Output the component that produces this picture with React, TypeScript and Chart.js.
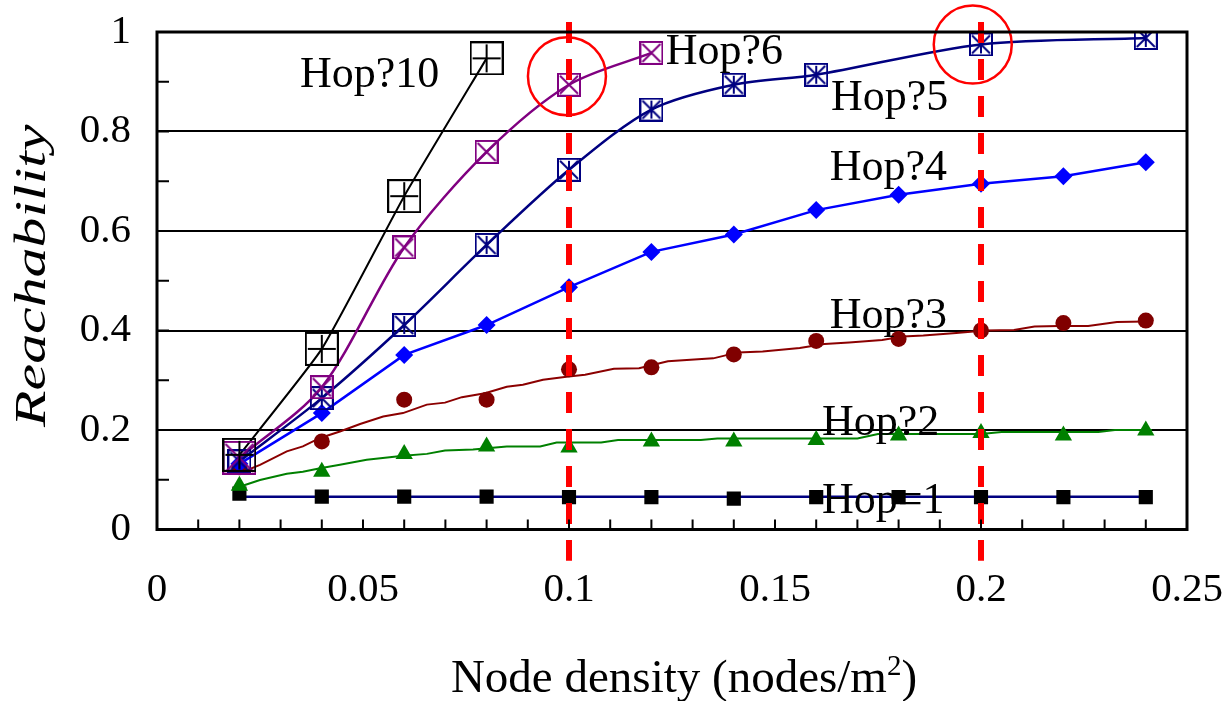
import React, { useEffect, useRef } from "react";
import { Chart, registerables } from "chart.js";
Chart.register(...registerables);

// ---- data ----
const densities = [0.02, 0.04, 0.06, 0.08, 0.1, 0.12, 0.14, 0.16, 0.18, 0.2, 0.22, 0.24];
const hop1 = [0.072, 0.066, 0.066, 0.066, 0.065, 0.065, 0.062, 0.065, 0.065, 0.065, 0.065, 0.065];
const hop1LineX = [0.02, 0.24];
const hop1LineY = [0.066, 0.066];
const hop2 = [0.088, 0.116, 0.152, 0.167, 0.165, 0.177, 0.177, 0.18, 0.189, 0.194, 0.189, 0.199];
const hop3 = [0.125, 0.177, 0.261, 0.261, 0.322, 0.326, 0.352, 0.379, 0.383, 0.4, 0.415, 0.42];
const hop4 = [0.132, 0.234, 0.351, 0.411, 0.487, 0.558, 0.593, 0.642, 0.673, 0.695, 0.71, 0.738];
const hop5X = [0.02, 0.04, 0.06, 0.08, 0.1, 0.12, 0.14, 0.16, 0.2, 0.24];
const hop5 = [0.137, 0.264, 0.411, 0.572, 0.723, 0.844, 0.894, 0.914, 0.975, 0.988];
const hop6X = [0.02, 0.04, 0.06, 0.08, 0.1, 0.12];
const hop6 = [0.144, 0.286, 0.567, 0.759, 0.894, 0.958];
const hop10X = [0.02, 0.04, 0.06, 0.08];
const hop10 = [0.15, 0.363, 0.67, 0.947];

const hop3FitX = [0.02, 0.025, 0.0315, 0.0354, 0.0396, 0.0444, 0.0493, 0.0549, 0.0597, 0.0655, 0.0699, 0.074, 0.0796, 0.0849, 0.0888, 0.0937, 0.0994, 0.1039, 0.1109, 0.117, 0.124, 0.135, 0.141, 0.147, 0.156, 0.162, 0.168, 0.176, 0.181, 0.186, 0.194, 0.201, 0.208, 0.213, 0.219, 0.226, 0.233, 0.24];
const hop3FitY = [0.113, 0.13, 0.157, 0.167, 0.184, 0.197, 0.212, 0.227, 0.234, 0.251, 0.255, 0.266, 0.274, 0.287, 0.291, 0.301, 0.307, 0.311, 0.323, 0.324, 0.338, 0.344, 0.356, 0.358, 0.365, 0.373, 0.376, 0.381, 0.388, 0.39, 0.395, 0.4, 0.401, 0.408, 0.409, 0.409, 0.417, 0.418];
const hop2FitX = [0.0206, 0.025, 0.0315, 0.0354, 0.0396, 0.0444, 0.0509, 0.0598, 0.0655, 0.0699, 0.0767, 0.0849, 0.093, 0.097, 0.1078, 0.1119, 0.132, 0.136, 0.17, 0.175, 0.2, 0.205, 0.2285, 0.2325, 0.2415];
const hop2FitY = [0.0875, 0.0996, 0.112, 0.116, 0.123, 0.13, 0.14, 0.148, 0.152, 0.159, 0.161, 0.167, 0.167, 0.175, 0.175, 0.18, 0.18, 0.183, 0.183, 0.192, 0.192, 0.196, 0.196, 0.2, 0.2];

const dashX = [0.1, 0.2];
const dashYRange = [1.02, -0.063];
const circleX = [0.0995, 0.198];
const circleY = [0.911, 0.975];

const labelText = ["Hop?10", "Hop?6", "Hop?5", "Hop?4", "Hop?3", "Hop?2", "Hop=1"];
const labelX = [0.0347, 0.1235, 0.1636, 0.1633, 0.1633, 0.1614, 0.1614];
const labelY = [0.89, 0.935, 0.844, 0.703, 0.405, 0.19, 0.034];

const xTitleMain = "Node density (nodes/m";
const xTitleSup = "2";
const xTitleEnd = ")";
const yTitle = "Reachability";

const FONT = '"Liberation Serif", "Times New Roman", serif';

const pts = (xs: number[], ys: number[]) => xs.map((x, i) => ({ x, y: ys[i] }));

function makeMarker(kind: string, color: string, size: number): HTMLCanvasElement {
  const c = document.createElement("canvas");
  c.width = size;
  c.height = size;
  const g = c.getContext("2d")!;
  const lw = 2;
  g.strokeStyle = color;
  g.lineWidth = lw;
  g.strokeRect(lw / 2, lw / 2, size - lw, size - lw);
  const m = size / 2;
  const i = lw + 1;
  g.beginPath();
  if (kind === "plus" || kind === "star") {
    g.moveTo(m, i);
    g.lineTo(m, size - i);
  }
  if (kind === "plus") {
    g.moveTo(i, m);
    g.lineTo(size - i, m);
  }
  if (kind === "x" || kind === "star") {
    g.moveTo(i, i);
    g.lineTo(size - i, size - i);
    g.moveTo(size - i, i);
    g.lineTo(i, size - i);
  }
  g.stroke();
  return c;
}

const zeroPad = (s: any) => {
  s.paddingLeft = 0;
  s.paddingRight = 0;
  s.paddingTop = 0;
  s.paddingBottom = 0;
};

export default function App() {
  const ref = useRef<HTMLCanvasElement>(null);
  useEffect(() => {
    document.body.style.margin = "0";
    const boxPlus = makeMarker("plus", "#000000", 34);
    const boxX = makeMarker("x", "#800080", 24);
    const boxXBig = makeMarker("x", "#800080", 34);
    const boxStar = makeMarker("star", "#000080", 24);

    const decor = {
      id: "decor",
      afterDatasetsDraw(chart: any) {
        const { ctx, scales } = chart;
        const xs = scales.x;
        const ys = scales.y;
        ctx.save();
        ctx.fillStyle = "#000";
        ctx.font = `44px ${FONT}`;
        ctx.textAlign = "left";
        ctx.textBaseline = "alphabetic";
        labelText.forEach((t, i) => {
          ctx.fillText(t, xs.getPixelForValue(labelX[i]), ys.getPixelForValue(labelY[i]));
        });
        ctx.restore();
      },
      afterDraw(chart: any) {
        const { ctx, chartArea: a, scales } = chart;
        const xs = scales.x;
        const ys = scales.y;
        ctx.save();
        ctx.strokeStyle = "#000";
        ctx.lineWidth = 2;
        ctx.beginPath();
        for (let k = 1; k < 10; k++) {
          const py = ys.getPixelForValue(k / 10);
          ctx.moveTo(a.left, py);
          ctx.lineTo(a.left + 12, py);
        }
        for (let k = 1; k < 25; k++) {
          const px = xs.getPixelForValue(k / 100);
          ctx.moveTo(px, a.bottom);
          ctx.lineTo(px, a.bottom - 10);
        }
        ctx.stroke();
        ctx.lineWidth = 3;
        ctx.strokeRect(a.left, a.top, a.right - a.left, a.bottom - a.top);

        // x title
        ctx.fillStyle = "#000";
        ctx.textBaseline = "alphabetic";
        ctx.textAlign = "left";
        ctx.font = `47px ${FONT}`;
        const w1 = ctx.measureText(xTitleMain).width;
        const w3 = ctx.measureText(xTitleEnd).width;
        ctx.font = `29px ${FONT}`;
        const w2 = ctx.measureText(xTitleSup).width;
        const total = w1 + w2 + w3;
        const cx = (a.left + a.right) / 2 + 12;
        const base = 692;
        let sx = cx - total / 2;
        ctx.font = `47px ${FONT}`;
        ctx.fillText(xTitleMain, sx, base);
        sx += w1;
        ctx.font = `29px ${FONT}`;
        ctx.fillText(xTitleSup, sx, base - 17);
        sx += w2;
        ctx.font = `47px ${FONT}`;
        ctx.fillText(xTitleEnd, sx, base);

        // y title
        ctx.translate(33, (a.top + a.bottom) / 2 - 5);
        ctx.rotate(-Math.PI / 2);
        ctx.scale(1.36, 1);
        ctx.font = `italic 44px ${FONT}`;
        ctx.textAlign = "center";
        ctx.textBaseline = "middle";
        ctx.fillText(yTitle, 0, 0);
        ctx.restore();
      },
    };

    const lineDs = (data: any, color: string, width: number, tension = 0) => ({
      data,
      showLine: true,
      borderColor: color,
      borderWidth: width,
      pointRadius: 0,
      pointHoverRadius: 0,
      tension,
      fill: false,
    });

    const chart = new Chart(ref.current!, {
      type: "scatter",
      data: {
        datasets: [
          { ...lineDs(pts([dashX[0], dashX[0]], dashYRange), "#FF0000", 6), borderDash: [21, 16], clip: false } as any,
          { ...lineDs(pts([dashX[1], dashX[1]], dashYRange), "#FF0000", 6), borderDash: [21, 16], clip: false } as any,
          {
            data: pts(circleX, circleY),
            pointStyle: "circle",
            pointRadius: 39,
            pointHoverRadius: 39,
            pointBorderWidth: 2.5,
            pointBorderColor: "#FF0000",
            pointBackgroundColor: "rgba(0,0,0,0)",
            clip: false,
          } as any,
          { data: pts(hop10X, hop10), pointStyle: boxPlus, pointRadius: 17 } as any,
          { data: pts(hop6X, hop6), pointStyle: hop6X.map((_, i) => (i === 0 ? boxXBig : boxX)), pointRadius: 12 } as any,
          { data: pts(hop5X, hop5), pointStyle: boxStar, pointRadius: 12 } as any,
          { data: pts(densities, hop4), pointStyle: "rectRot", pointRadius: 9, pointBackgroundColor: "#0000FF", pointBorderColor: "#0000FF", pointBorderWidth: 0 } as any,
          { data: pts(densities, hop3), pointStyle: "circle", pointRadius: 8, pointBackgroundColor: "#800000", pointBorderColor: "#800000", pointBorderWidth: 0 } as any,
          { data: pts(densities, hop2), pointStyle: "triangle", pointRadius: 10, pointBackgroundColor: "#008000", pointBorderColor: "#008000", pointBorderWidth: 0 } as any,
          { data: pts(densities, hop1), pointStyle: "rect", pointRadius: 10, pointBackgroundColor: "#000000", pointBorderColor: "#000000", pointBorderWidth: 0 } as any,
          lineDs(pts(hop10X, hop10), "#000000", 2, 0.15),
          lineDs(pts(hop6X, hop6), "#800080", 2.5, 0.3),
          lineDs(pts(hop5X, hop5), "#000080", 2.5, 0.3),
          lineDs(pts(densities, hop4), "#0000FF", 2.5, 0),
          lineDs(pts(hop3FitX, hop3FitY), "#8B0000", 2, 0),
          lineDs(pts(hop2FitX, hop2FitY), "#008000", 2, 0),
          lineDs(pts(hop1LineX, hop1LineY), "#000080", 2.5, 0),
        ],
      },
      options: {
        responsive: false,
        animation: false,
        devicePixelRatio: 1,
        events: [],
        layout: { autoPadding: false, padding: { top: 32, right: 40, left: 0, bottom: 0 } },
        plugins: { legend: { display: false }, tooltip: { enabled: false } },
        scales: {
          x: {
            type: "linear",
            min: 0,
            max: 0.25,
            afterFit: (s: any) => {
              s.height = 171.5;
              zeroPad(s);
            },
            border: { display: false },
            grid: { display: false, drawTicks: false },
            ticks: {
              stepSize: 0.01,
              autoSkip: false,
              maxRotation: 0,
              padding: 36,
              color: "#000",
              font: { family: FONT, size: 41 },
              callback: (v: any) => (Math.round(Number(v) * 100) % 5 === 0 ? String(parseFloat(Number(v).toFixed(2))) : ""),
            },
          },
          y: {
            type: "linear",
            min: 0,
            max: 1,
            afterFit: (s: any) => {
              s.width = 157;
              zeroPad(s);
            },
            border: { display: false },
            grid: {
              drawTicks: false,
              lineWidth: 2,
              color: (c: any) => {
                const k = Math.round(c.tick.value * 10);
                return k % 2 === 0 && k > 0 && k < 10 ? "#000" : "rgba(0,0,0,0)";
              },
            },
            ticks: {
              stepSize: 0.1,
              autoSkip: false,
              padding: 26,
              color: "#000",
              font: { family: FONT, size: 41 },
              callback: (v: any) => (Math.round(Number(v) * 10) % 2 === 0 ? String(parseFloat(Number(v).toFixed(1))) : ""),
            },
          },
        },
      },
      plugins: [decor],
    });
    return () => chart.destroy();
  }, []);
  return (
    <div style={{ position: "absolute", left: 0, top: 0, width: 1227, height: 701, background: "#fff" }}>
      <canvas ref={ref} width={1227} height={701} />
    </div>
  );
}
